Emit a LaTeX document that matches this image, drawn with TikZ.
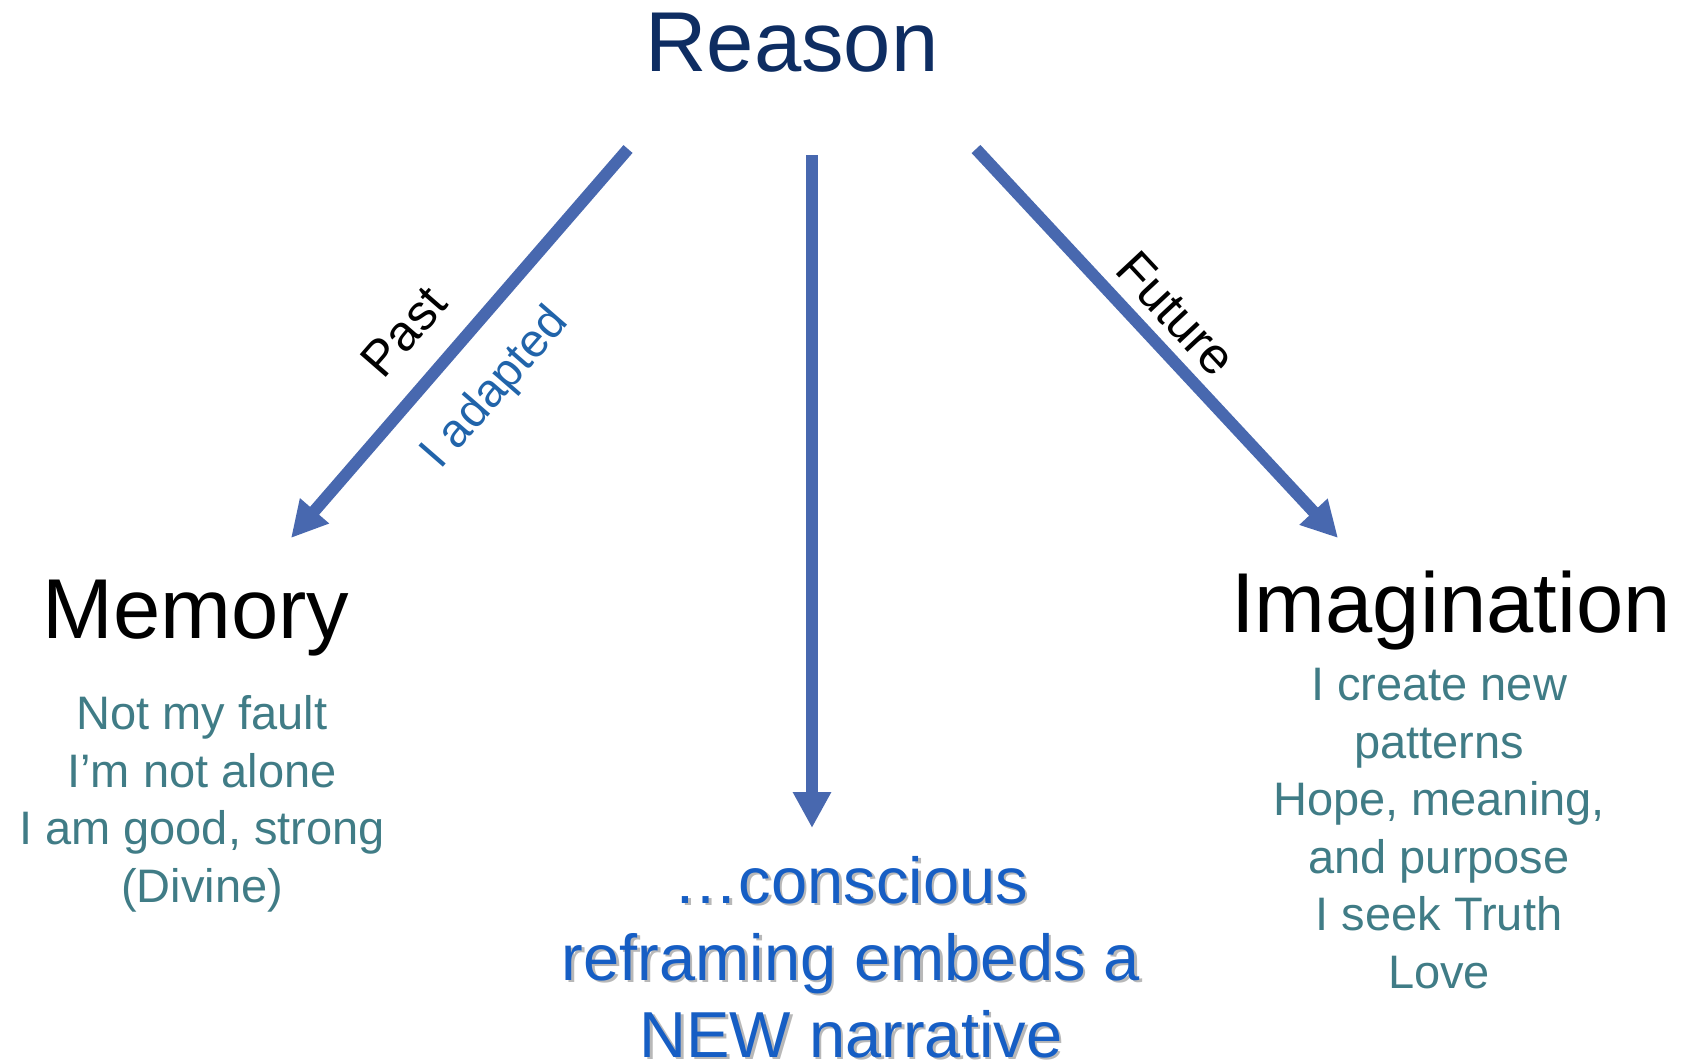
\documentclass[tikz,border=0pt]{standalone}
\usepackage{fontspec}
\setmainfont{Liberation Sans}
\usetikzlibrary{arrows.meta}

\definecolor{arrowblue}{RGB}{72,104,175}
\definecolor{navy}{RGB}{14,45,98}
\definecolor{tealtext}{RGB}{64,124,134}
\definecolor{adaptblue}{RGB}{33,100,170}
\definecolor{brightblue}{RGB}{22,94,196}

\tikzset{
  flow/.style={draw=arrowblue, line width=12pt,
    -{Triangle[width=36pt,length=36pt]}},
  title/.style={inner sep=0pt, anchor=base, font=\fontsize{85}{100}\selectfont},
  % multi-line nodes: the base anchor sits on the last line's baseline
  notes/.style={inner sep=0pt, anchor=base, align=center, text=tealtext,
    font=\fontsize{47}{57.5}\selectfont},
  axislabel/.style={inner sep=0pt, font=\fontsize{50}{60}\selectfont},
  message/.style={inner sep=0pt, anchor=base, align=center,
    font=\fontsize{65}{77}\selectfont}
}

\begin{document}
\begin{tikzpicture}[x=1pt,y=-1pt]
  \useasboundingbox (0,0) rectangle (1686,1061);

  % headings
  \node[title, text=navy] (reason) at (792,71) {Reason};
  \node[title] (memory) at (196,638) {Memory};
  \node[title] (imagination) at (1451,632) {Imagination};

  % arrow end points
  \coordinate (pastStart) at (628,149);
  \coordinate (pastEnd) at (291,538);
  \coordinate (midStart) at (812,155);
  \coordinate (midEnd) at (812,828);
  \coordinate (futStart) at (976,149);
  \coordinate (futEnd) at (1338,538);

  \draw[flow] (pastStart) -- (pastEnd);
  \draw[flow] (midStart) -- (midEnd);
  \draw[flow] (futStart) -- (futEnd);

  % labels along the diagonal arrows
  \node[axislabel, rotate=49] (past) at (404,332) {Past};
  \node[axislabel, rotate=49, text=adaptblue, font=\fontsize{47}{56}\selectfont]
    (adapted) at (496,389) {I adapted};
  \node[axislabel, rotate=-47, font=\fontsize{51}{60}\selectfont]
    (future) at (1176,314) {Future};

  % statements under each heading
  \node[notes] (memnotes) at (202,902)
    {Not my fault\\I’m not alone\\I am good, strong\\(Divine)};
  \node[notes] (imgnotes) at (1439,988)
    {I create new\\patterns\\Hope, meaning,\\and purpose\\I seek Truth\\Love};

  % central message with a soft shadow
  \node[message, text=black, opacity=0.28] (msgshadow) at (853.5,1059.5)
    {…conscious\\reframing embeds a\\NEW narrative};
  \node[message, text=brightblue] (message) at (851,1057)
    {…conscious\\reframing embeds a\\NEW narrative};
\end{tikzpicture}
\end{document}
